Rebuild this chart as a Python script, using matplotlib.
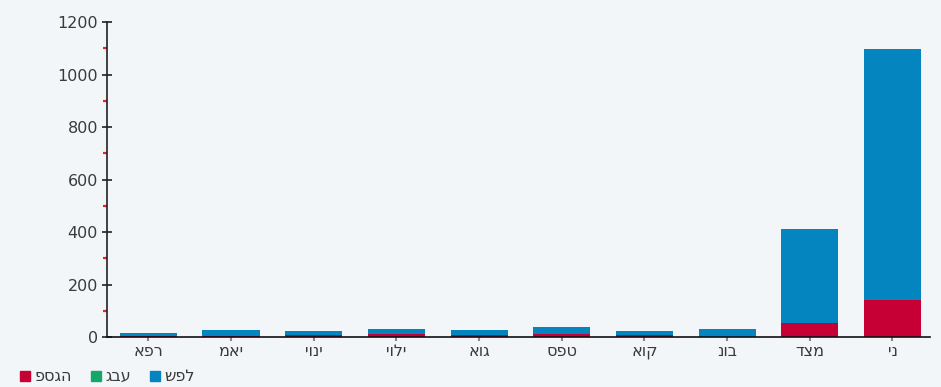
import numpy as np
import matplotlib.pyplot as plt
from matplotlib.patches import Patch
from matplotlib.ticker import MultipleLocator

# month labels and series names
months = ["אפר", "מאי", "יוני", "יולי", "אוג", "ספט", "אוק", "נוב", "דצמ", "ינ"]
series_names = ["פסגה", "גבע", "שפל"]
# series values
peak = [2, 3, 6, 10, 8, 12, 7, 0, 53, 141]        # פסגה
shoulder = [0, 0, 0, 0, 0, 0, 0, 0, 0, 0]         # גבע
low = [13, 24, 17, 20, 19, 26, 16, 30, 358, 956]  # שפל

col_peak = "#c60035"
col_mid = "#16a66a"
col_low = "#0585bf"

plt.rcParams['font.family'] = ['DejaVu Sans']

fig = plt.figure(figsize=(9.41, 3.87), dpi=100)
fig.patch.set_facecolor("#f3f6f9")
ax = fig.add_axes([0.1137, 0.1292, 0.8743, 0.8139])
ax.patch.set_alpha(0)

x = np.arange(len(months))
w = 0.69
peak = np.array(peak)
shoulder = np.array(shoulder)
low = np.array(low)
ax.bar(x, peak, w, color=col_peak, zorder=2)
ax.bar(x, shoulder, w, bottom=peak, color=col_mid, zorder=2)
ax.bar(x, low, w, bottom=peak + shoulder, color=col_low, zorder=2)

ax.set_xlim(-0.5, 9.45)
ax.set_ylim(0, 1200)

for s in ["top", "right"]:
    ax.spines[s].set_visible(False)
ax.spines["left"].set_color("#222222")
ax.spines["bottom"].set_color("#111111")
ax.spines["left"].set_linewidth(1.2)
ax.spines["bottom"].set_linewidth(1.2)

ax.yaxis.set_major_locator(MultipleLocator(200))
ax.yaxis.set_minor_locator(MultipleLocator(100))
ax.tick_params(axis="y", which="major", direction="inout", length=7, width=1.2,
               color="#222222", labelsize=11.5, labelcolor="#3a3a3a", pad=3)
ax.tick_params(axis="y", which="minor", direction="out", length=3, width=1.6,
               color="#ff1a1a")

ax.set_xticks(x)
ax.set_xticklabels(months)
ax.tick_params(axis="x", direction="out", length=3, width=1.5, color="#888888",
               labelsize=11.5, labelcolor="#3a3a3a", pad=2)

handles = [Patch(color=col_peak), Patch(color=col_mid), Patch(color=col_low)]
fig.legend(handles, series_names, loc="lower left",
           bbox_to_anchor=(0.006, -0.03), ncol=3, frameon=False,
           handlelength=0.6, handleheight=0.6, handletextpad=0.3,
           columnspacing=1.2, fontsize=11.5, labelcolor="#3a3a3a")

fig.savefig("out.png", dpi=100, facecolor=fig.get_facecolor())
